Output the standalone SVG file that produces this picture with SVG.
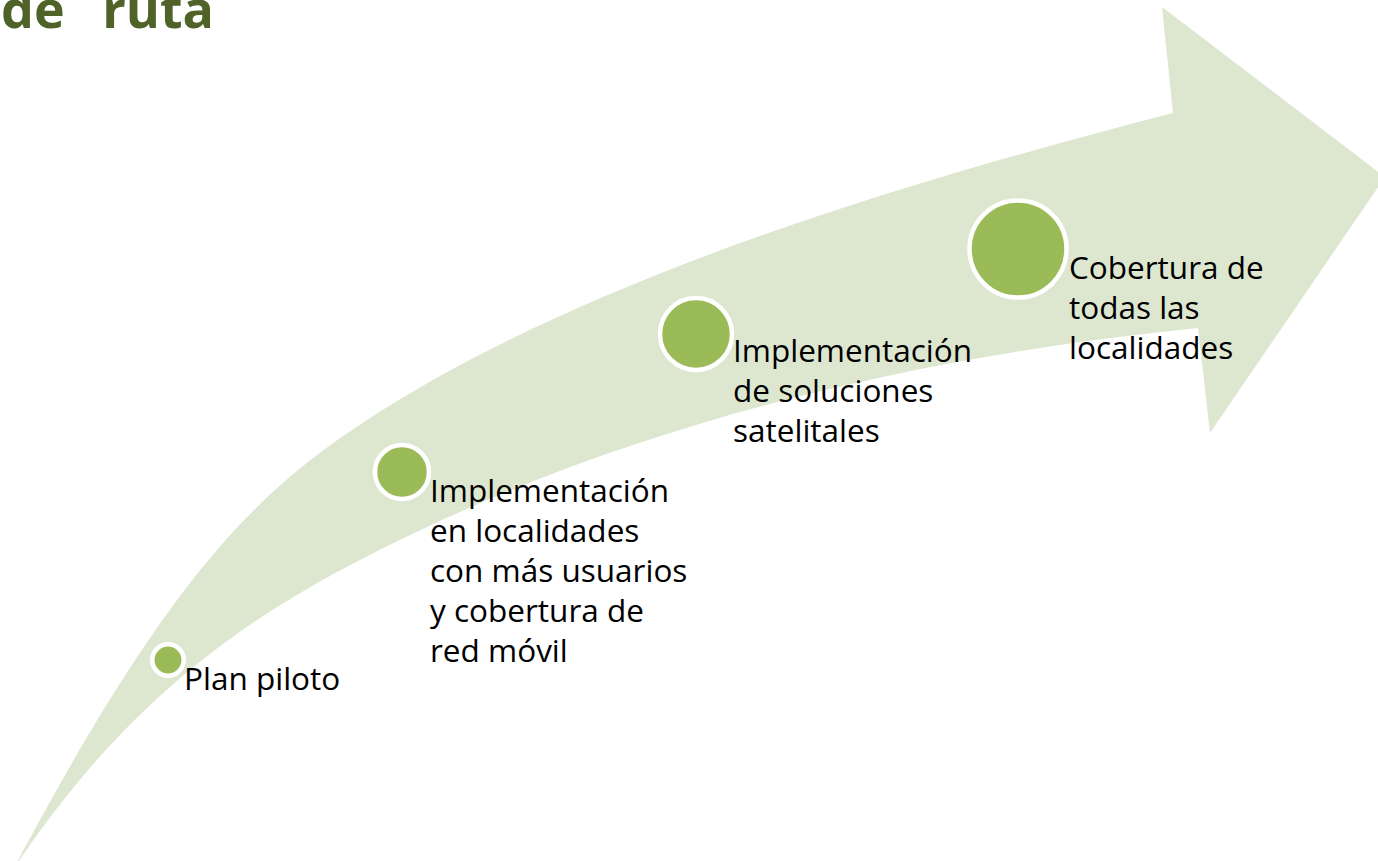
<svg xmlns="http://www.w3.org/2000/svg" width="1378" height="861" viewBox="0 0 1378 861">
  <style>
    .bg { fill: #ffffff; }
    .arrow { fill: #DDE7D0; stroke: none; }
    .dot { fill: #9BBB59; stroke: #ffffff; stroke-width: 4.5; }
    .label { font-family: "Open Sans", "Noto Sans", "Liberation Sans", sans-serif; font-size: 31.5px; fill: #000000; }
    .title { font-family: "Open Sans", "Noto Sans", "Liberation Sans", sans-serif; font-size: 52px; font-weight: bold; fill: #4F6228; word-spacing: 24px; }
  </style>
  <rect class="bg" x="0" y="0" width="1378" height="861"/>
  <text class="title" x="214" y="28" text-anchor="end">de ruta</text>
  <g id="arrow">
    <path class="arrow" d="M 14,868 C 170,575 257,491.5 367,420 C 587,277 903,183 1173,113 L 1162,7 L 1385,177 L 1210,433 L 1198,328 C 898,358 610,430 360,560 C 250,617 130,695 14,868 Z"/>
  </g>
  <g id="connectors"></g>
  <g id="node-plan-piloto">
    <circle class="dot" cx="168" cy="660" r="15.7"/>
    <text class="label" x="184" y="690">Plan piloto</text>
  </g>
  <g id="node-localidades">
    <circle class="dot" cx="402" cy="472" r="27"/>
    <text class="label">
      <tspan x="430" y="502">Implementación</tspan>
      <tspan x="430" y="542">en localidades</tspan>
      <tspan x="430" y="582">con más usuarios</tspan>
      <tspan x="430" y="622">y cobertura de</tspan>
      <tspan x="430" y="662">red móvil</tspan>
    </text>
  </g>
  <g id="node-satelitales">
    <circle class="dot" cx="696" cy="334" r="36"/>
    <text class="label">
      <tspan x="733" y="362">Implementación</tspan>
      <tspan x="733" y="402">de soluciones</tspan>
      <tspan x="733" y="442">satelitales</tspan>
    </text>
  </g>
  <g id="node-cobertura">
    <circle class="dot" cx="1018" cy="249" r="48.5"/>
    <text class="label">
      <tspan x="1069" y="279">Cobertura de</tspan>
      <tspan x="1069" y="319">todas las</tspan>
      <tspan x="1069" y="359">localidades</tspan>
    </text>
  </g>
</svg>
